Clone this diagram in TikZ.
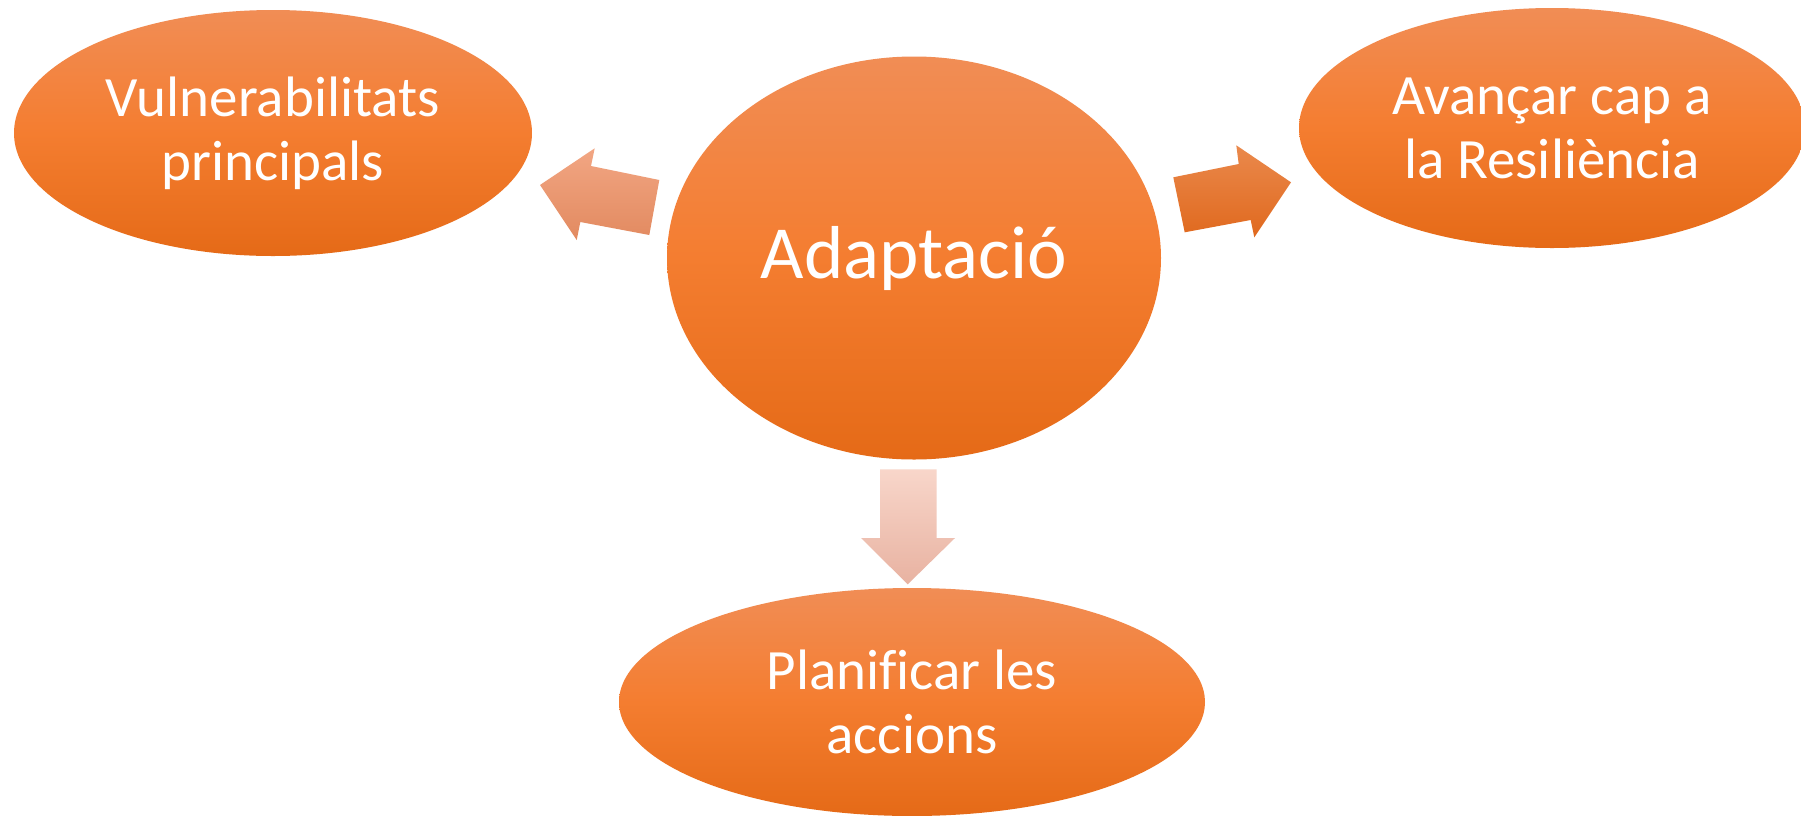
\documentclass[tikz,border=0pt]{standalone}
\usepackage{fontspec}
\setmainfont{Carlito}[Ligatures=NoCommon]
\usetikzlibrary{shapes.geometric}
\definecolor{otop}{HTML}{F18D55}
\definecolor{omid}{HTML}{F47D30}
\definecolor{obot}{HTML}{E56A17}
\definecolor{ltop}{HTML}{F2A683}
\definecolor{lbot}{HTML}{E28A60}
\definecolor{rtop}{HTML}{EA894C}
\definecolor{rbot}{HTML}{E0691E}
\definecolor{dtop}{HTML}{F8D6CA}
\definecolor{dbot}{HTML}{E8B2A1}
\tikzset{
  ell/.style={ellipse, inner sep=0pt, top color=otop, bottom color=obot, middle color=omid,
    text=white, align=center, font=\fontsize{28.5}{32}\selectfont},
  bigtext/.style={font=\fontsize{37.5}{42}\selectfont},
}
\begin{document}
\begin{tikzpicture}[x=0.5pt,y=-0.5pt]
\useasboundingbox (0,0) rectangle (1801,815);
\fill[white] (0,0) rectangle (1801,815);
% block arrows
\shade[top color=ltop, bottom color=lbot]
  (540,185) -- (594.7,148.3) -- (591,166) -- (659.3,180) -- (649.3,235) -- (580.3,222) -- (576.7,240) -- cycle;
\shade[top color=rtop, bottom color=rbot]
  (1173.3,177.3) -- (1238.7,164) -- (1236.3,145.3) -- (1291,182.3) -- (1254.3,237.3) -- (1250.7,220) -- (1184.7,232.3) -- cycle;
\shade[top color=dtop, bottom color=dbot]
  (880,469.3) -- (936.7,469.3) -- (936.7,538) -- (955,538) -- (907.7,584.3) -- (861,538) -- (880,538) -- cycle;
% ellipses
\node[ell, minimum width=259pt, minimum height=123pt] (vul) at (273,133) {Vulnerabilitats\\principals};
\node[ell, minimum width=253pt, minimum height=120pt] (res) at (1552,128) {Avançar cap a\\la Resiliència};
\node[ell, bigtext, minimum width=247pt, minimum height=201.5pt] (ada) at (914,258) {Adaptació};
\node[ell, minimum width=293pt, minimum height=114pt] (pla) at (912,702) {Planificar les\\accions};
\end{tikzpicture}
\end{document}
